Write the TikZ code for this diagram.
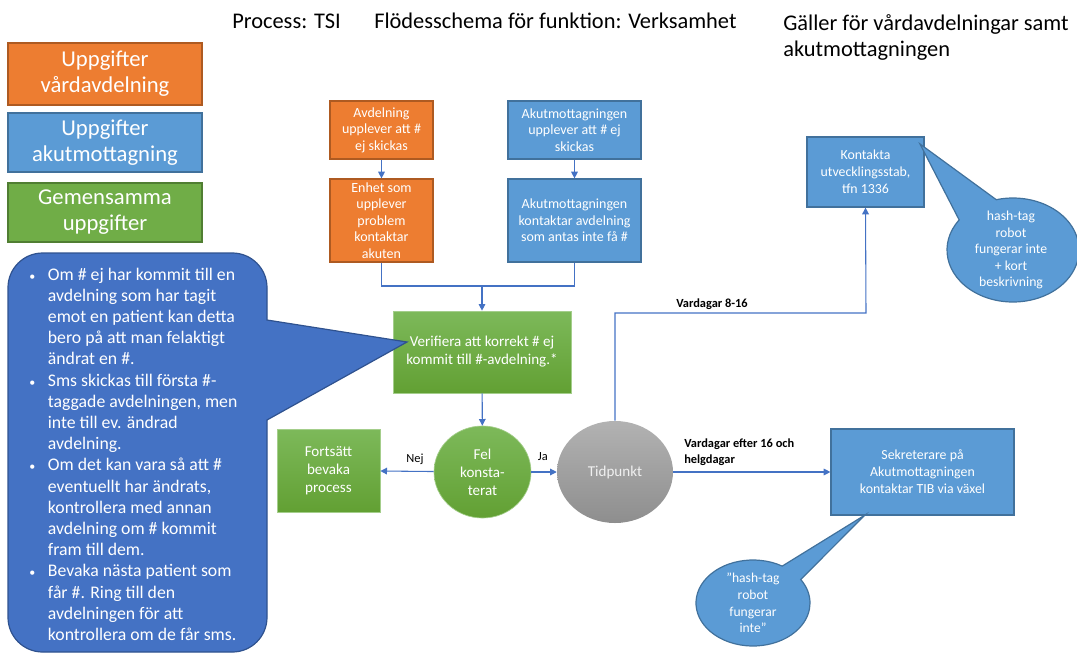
\documentclass[tikz,border=0pt]{standalone}
\usepackage{fontspec}
\setmainfont{Carlito}
\usepackage{tikz}
\usetikzlibrary{arrows.meta,shapes.geometric,shapes.callouts}

\definecolor{orgFill}{HTML}{ED7D31}
\definecolor{orgLine}{HTML}{AE5A21}
\definecolor{bluFill}{HTML}{5B9BD5}
\definecolor{bluLine}{HTML}{41719C}
\definecolor{grnFill}{HTML}{70AD47}
\definecolor{grnLine}{HTML}{507E32}
\definecolor{grnTop}{HTML}{7DB95A}
\definecolor{grnBot}{HTML}{62A033}
\definecolor{gryTop}{HTML}{B2B2B2}
\definecolor{gryBot}{HTML}{8E8E8E}
\definecolor{calFill}{HTML}{4472C4}
\definecolor{calLine}{HTML}{2F528F}
\definecolor{conLine}{HTML}{4472C4}

\newcommand\blt{{\fontsize{9}{9}\selectfont\textbullet}}

\begin{document}
\begin{tikzpicture}[x=0.75pt,y=-0.75pt,
  box/.style={draw, line width=0.9pt, inner sep=1pt, align=center, text=white},
  orgbox/.style={box, fill=orgFill, draw=orgLine},
  blubox/.style={box, fill=bluFill, draw=bluLine},
  grnbox/.style={box, top color=grnTop, bottom color=grnBot, draw=grnTop!70!white, line width=0.5pt},
  legbox/.style={draw, line width=0.9pt, align=center, text=white, minimum width=145.5pt,
    font=\fontsize{17}{19.5}\selectfont},
  bubble/.style={ellipse callout, fill=bluFill, draw=bluLine, line width=0.9pt, inner sep=0pt},
  bubtext/.style={align=center, text=white, inner sep=0pt},
  con/.style={draw=conLine, line width=0.8pt},
  arr/.style={con, -{Triangle[length=5pt,width=5pt]}},
  lbl/.style={inner sep=0pt, font=\fontsize{9.3}{11}\selectfont, align=left}]

\useasboundingbox (0,0) rectangle (1077,653);

% header
\node[anchor=base west, inner sep=0pt, font=\fontsize{16.8}{19}\selectfont] (proc) at (232,28) {Process: TSI};
\node[anchor=base west, inner sep=0pt, font=\fontsize{16.8}{19}\selectfont] (flod) at (374,28) {Flödesschema för funktion: Verksamhet};
\node[anchor=north west, inner sep=0pt, align=left, font=\fontsize{16.8}{19.5}\selectfont] (gall) at (783,14) {Gäller för vårdavdelningar samt\\akutmottagningen};

% legend
\node[legbox, fill=orgFill, draw=orgLine, minimum height=46.5pt] (leg1) at (105,74) {Uppgifter\\vårdavdelning};
\node[legbox, fill=bluFill, draw=bluLine, minimum height=44.25pt] (leg2) at (105,142.5) {Uppgifter\\akutmottagning};
\node[legbox, fill=grnFill, draw=grnLine, minimum height=44.25pt] (leg3) at (105,212.5) {Gemensamma\\uppgifter};

% flow boxes
\begin{scope}[font=\fontsize{10.5}{12.4}\selectfont]
\node[orgbox, minimum width=77.25pt, minimum height=43.5pt] (avd) at (381.5,130) {Avdelning\\upplever att \#\\ej skickas};
\node[orgbox, minimum width=77.25pt, minimum height=62.25pt] (enh) at (381.5,220.5) {Enhet som\\upplever\\problem\\kontaktar\\akuten};
\node[blubox, minimum width=99.75pt, minimum height=43.5pt] (akut) at (574.5,130) {Akutmottagningen\\upplever att \# ej\\skickas};
\node[blubox, minimum width=99.75pt, minimum height=62.25pt] (akk) at (574.5,220.5) {Akutmottagningen\\kontaktar avdelning\\som antas inte få \#};
\end{scope}

\begin{scope}[font=\fontsize{11.3}{13.5}\selectfont]
\node[grnbox, minimum width=133.5pt, minimum height=61.5pt] (verif) at (482,352) {Verifiera att korrekt \# ej\\kommit till \#-avdelning.*};
\node[grnbox, ellipse, inner sep=0pt, minimum width=72.75pt, minimum height=69pt] (fel) at (482.5,472) {Fel\\konsta-\\terat};
\node[grnbox, minimum width=77.25pt, minimum height=62.25pt] (fort) at (328.5,470.5) {Fortsätt\\bevaka\\process};
\node[ellipse, inner sep=0pt, top color=gryTop, bottom color=gryBot, text=white!94!black,
  minimum width=87pt, minimum height=76.5pt] (tid) at (615,472) {Tidpunkt};
\end{scope}

\begin{scope}[font=\fontsize{10.4}{12.75}\selectfont]
\node[blubox, minimum width=87.75pt, minimum height=52.5pt] (kont) at (865.5,172) {Kontakta\\utvecklingsstab,\\tfn 1336};
\node[blubox, minimum width=137.25pt, minimum height=64.5pt] (sekr) at (922.5,472) {Sekreterare på\\Akutmottagningen\\kontaktar TIB via växel};
\end{scope}

% connectors
\draw[arr] (avd) -- (enh);
\draw[arr] (akut) -- (akk);
\coordinate (join) at (482,286);
\draw[con] (enh.south) |- (join) -| (akk.south);
\draw[arr] (join) -- (verif);
\draw[arr] (verif) -- (fel);
\draw[arr] (fel) -- (fort) node[lbl, pos=0.35, above=5pt] {Nej};
\draw[arr] (fel) -- (tid) node[lbl, pos=0.45, above=8pt] {Ja};
\draw[arr] (tid.north) |- (866,313) -- (kont.south);
\draw[arr] (tid) -- (sekr);
\node[lbl, anchor=base west, font=\bfseries\fontsize{9.3}{11}\selectfont] (v816) at (676,307) {Vardagar 8-16};
\node[lbl, anchor=north west, font=\bfseries\fontsize{9.3}{11.3}\selectfont] (v16) at (684,439) {Vardagar efter 16 och\\helgdagar};

% callouts
\node[bubble, minimum width=99pt, minimum height=78pt, callout absolute pointer={(920,144)}, callout pointer arc=40] (bub1) at (1013,250) {};
\node[bubtext, font=\fontsize{10.3}{12.4}\selectfont] (bub1t) at (1011,250) {hash-tag\\robot\\fungerar inte\\+ kort\\beskrivning};
\node[bubble, minimum width=85.5pt, minimum height=64.5pt, callout absolute pointer={(865,515)}, callout pointer arc=26] (bub2) at (753,603) {};
\node[bubtext, font=\fontsize{10.2}{12.4}\selectfont] (bub2t) at (bub2) {”hash-tag\\robot\\fungerar\\inte”};

\draw[fill=calFill, draw=calLine, line width=0.9pt] (267,420) [rounded corners=26pt] -- (267,652) -- (8,652) -- (8,253) -- (267,253) [sharp corners] -- (267,320) -- (407,342) -- cycle;
\node[anchor=north west, inner sep=0pt, text=white, font=\fontsize{13.3}{15.9}\selectfont] (note) at (29,265) {%
\begin{tabular}{@{}p{14pt}@{}l@{}}
\blt & Om \# ej har kommit till en\\
 & avdelning som har tagit\\
 & emot en patient kan detta\\
 & bero på att man felaktigt\\
 & ändrat en \#.\\
\blt & Sms skickas till första \#-\\
 & taggade avdelningen, men\\
 & inte till ev. ändrad\\
 & avdelning.\\
\blt & Om det kan vara så att \#\\
 & eventuellt har ändrats,\\
 & kontrollera med annan\\
 & avdelning om \# kommit\\
 & fram till dem.\\
\blt & Bevaka nästa patient som\\
 & får \#. Ring till den\\
 & avdelningen för att\\
 & kontrollera om de får sms.
\end{tabular}};

\end{tikzpicture}
\end{document}
